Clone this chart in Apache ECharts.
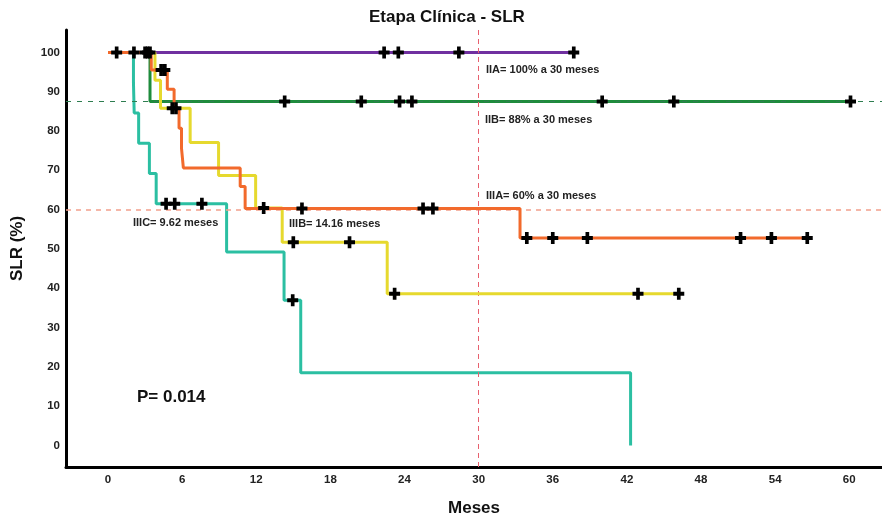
<!DOCTYPE html>
<html>
<head>
<meta charset="utf-8">
<script src="https://cdn.jsdelivr.net/npm/echarts@6/dist/echarts.min.js"></script>
<style>
  html, body { margin: 0; padding: 0; background: #fff; }
  #chart { width: 882px; height: 523px; }
</style>
</head>
<body>
<div id="chart"></div>
<script>
var xTicks = [0, 6, 12, 18, 24, 30, 36, 42, 48, 54, 60];
var yTicks = [0, 10, 20, 30, 40, 50, 60, 70, 80, 90, 100];

// curvas de Kaplan-Meier: tiempos de evento (meses) y supervivencia (%)
var iiaTimes = [0, 37.7];
var iiaSurv = [100, 100];
var iiaCensT = [0.7, 2.1, 3.2, 22.35, 23.5, 28.4, 37.7];
var iiaCensS = [100, 100, 100, 100, 100, 100, 100];

var iibTimes = [0, 3.4, 60.1];
var iibSurv = [100, 87.5, 87.5];
var iibCensT = [3.0, 14.3, 20.5, 23.6, 24.6, 40.0, 45.8, 60.1];
var iibCensS = [100, 87.5, 87.5, 87.5, 87.5, 87.5, 87.5, 87.5];

var iiiaTimes = [0, 3.5, 4.8, 5.35, 5.75, 5.95, 6.1, 10.7, 11.1, 33.35, 56.6];
var iiiaSurv = [100, 95.5, 90.6, 85.8, 80.7, 75.6, 70.6, 65.9, 60.3, 52.8, 52.8];
var iiiaCensT = [3.4, 4.3, 4.6, 5.5, 15.7, 25.5, 26.3, 33.9, 36.0, 38.8, 51.2, 53.7, 56.6];
var iiiaCensS = [100, 95.5, 95.5, 85.8, 60.3, 60.3, 60.3, 52.8, 52.8, 52.8, 52.8, 52.8, 52.8];

var iiibTimes = [0, 3.8, 4.25, 6.65, 8.95, 11.95, 14.1, 22.6, 46.2];
var iiibSurv = [100, 92.9, 85.8, 77.1, 68.7, 60.4, 51.7, 38.6, 38.6];
var iiibCensT = [5.2, 12.6, 15.0, 19.55, 23.2, 42.9, 46.2];
var iiibCensS = [85.8, 60.4, 51.7, 51.7, 38.6, 38.6, 38.6];

var iiicTimes = [0, 2.06, 2.12, 2.48, 3.35, 3.9, 9.6, 14.25, 15.6, 42.3];
var iiicSurv = [100, 92.3, 84.6, 76.9, 69.2, 61.5, 49.2, 36.9, 18.5, 0];
var iiicCensT = [4.7, 5.4, 7.6, 14.95];
var iiicCensS = [61.5, 61.5, 61.5, 36.9];

var refSurvIIB = 87.5;
var refSurvIIIA = 60;
var refMonth = 30;

var font = '"Liberation Sans", Arial, sans-serif';
var plus = 'path://M4,0H8V4H12V8H8V12H4V8H0V4H4Z';

function zip(a, b) {
    var out = [];
    for (var i = 0; i < a.length; i++) out.push([a[i], b[i]]);
    return out;
}

function kmLine(name, color, times, surv, z) {
    return {
        name: name,
        type: 'line',
        step: 'end',
        data: zip(times, surv),
        symbol: 'none',
        z: z,
        lineStyle: { color: color, width: 3 },
        animation: false
    };
}

function censors(name, t, s) {
    return {
        name: name,
        type: 'scatter',
        data: zip(t, s),
        symbol: plus,
        symbolSize: [11, 12],
        itemStyle: { color: '#000', opacity: 1 },
        z: 10,
        animation: false
    };
}

var myChart = echarts.init(document.getElementById('chart'));

var txt = { fontFamily: font, fontWeight: 'bold', fill: '#222' };

var option = {
    backgroundColor: '#fff',
    grid: { left: 66, right: 0, top: 30, bottom: 56 },
    xAxis: {
        type: 'value',
        min: -3.4,
        max: 62.65,
        name: 'Meses',
        nameLocation: 'middle',
        nameGap: 33,
        nameTextStyle: { fontFamily: font, fontWeight: 'bold', fontSize: 17, color: '#111' },
        axisLine: { onZero: false, lineStyle: { color: '#000', width: 3 } },
        axisTick: { show: false },
        splitLine: { show: false },
        axisLabel: {
            customValues: xTicks,
            fontFamily: font, fontWeight: 'bold', fontSize: 11.5, color: '#222', margin: 7
        }
    },
    yAxis: {
        type: 'value',
        min: -5.5,
        max: 105.7,
        name: 'SLR (%)',
        nameLocation: 'middle',
        nameGap: 40,
        nameTextStyle: { fontFamily: font, fontWeight: 'bold', fontSize: 17, color: '#111' },
        axisLine: { show: true, onZero: false, lineStyle: { color: '#000', width: 3 } },
        axisTick: { show: false },
        splitLine: { show: false },
        axisLabel: {
            customValues: yTicks,
            fontFamily: font, fontWeight: 'bold', fontSize: 11.5, color: '#222', margin: 6
        }
    },
    graphic: [
        { type: 'text', left: 369, top: 9, style: Object.assign({ text: 'Etapa Clínica - SLR', fontSize: 17, fill: '#111' }, { fontFamily: font, fontWeight: 'bold' }) },
        { type: 'text', left: 486, top: 64, style: Object.assign({ text: 'IIA= 100% a 30 meses', fontSize: 11 }, txt) },
        { type: 'text', left: 485, top: 114, style: Object.assign({ text: 'IIB= 88% a 30 meses', fontSize: 11 }, txt) },
        { type: 'text', left: 486, top: 190, style: Object.assign({ text: 'IIIA= 60% a 30 meses', fontSize: 11 }, txt) },
        { type: 'text', left: 133, top: 217, style: Object.assign({ text: 'IIIC= 9.62 meses', fontSize: 11 }, txt) },
        { type: 'text', left: 289, top: 218, style: Object.assign({ text: 'IIIB= 14.16 meses', fontSize: 11 }, txt) },
        { type: 'text', left: 137, top: 389, style: Object.assign({ text: 'P= 0.014', fontSize: 17, fill: '#111' }, { fontFamily: font, fontWeight: 'bold' }) }
    ],
    series: [
        kmLine('IIA', '#7030a0', iiaTimes, iiaSurv, 2),
        kmLine('IIB', '#1e8c3c', iibTimes, iibSurv, 3),
        kmLine('IIIC', '#2bbfa2', iiicTimes, iiicSurv, 4),
        kmLine('IIIB', '#e6d92e', iiibTimes, iiibSurv, 5),
        kmLine('IIIA', '#f26a2c', iiiaTimes, iiiaSurv, 6),
        {
            type: 'line',
            data: [],
            z: 8,
            markLine: {
                silent: true,
                symbol: 'none',
                label: { show: false },
                animation: false,
                data: [
                    { yAxis: refSurvIIB, lineStyle: { color: '#2e7d50', type: [5, 6], width: 1 } },
                    { yAxis: refSurvIIIA, lineStyle: { color: '#f2a08c', type: [5, 5], width: 1.5 } },
                    { xAxis: refMonth, lineStyle: { color: '#e8606e', type: [5, 4], width: 1 } }
                ]
            }
        },
        censors('IIA c', iiaCensT, iiaCensS),
        censors('IIB c', iibCensT, iibCensS),
        censors('IIIA c', iiiaCensT, iiiaCensS),
        censors('IIIB c', iiibCensT, iiibCensS),
        censors('IIIC c', iiicCensT, iiicCensS)
    ]
};

myChart.setOption(option);
</script>
</body>
</html>
